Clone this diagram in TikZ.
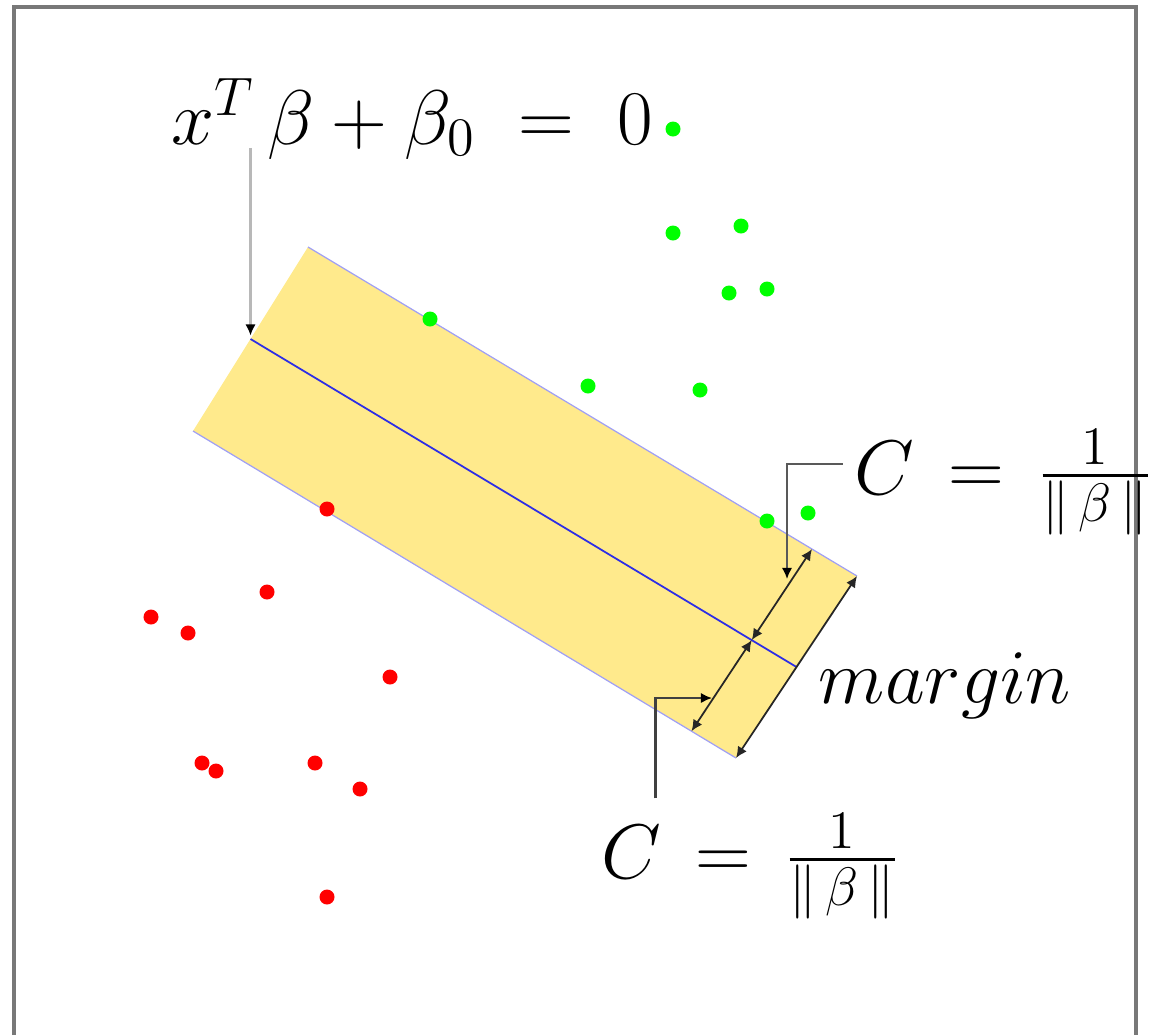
\RequirePackage{fix-cm}
\documentclass[tikz,border=0pt]{standalone}
\usepackage{amsmath, amssymb}
\usepackage{xcolor}
\usepackage{tikz}
\usetikzlibrary{
arrows.meta,
calc
}
\definecolor{svmband}{RGB}{255,234,140}
\definecolor{svmblue}{RGB}{45,45,230}
\definecolor{svmgreen}{RGB}{0,255,0}
\definecolor{svmred}{RGB}{255,0,0}
\definecolor{svmframe}{RGB}{120,120,120}

\begin{document}
\begin{tikzpicture}[>=Stealth, x=0.01cm, y=-0.01cm,
  bigmath/.style={font=\fontsize{22}{26}\selectfont, inner sep=0pt},
  callout/.style={line width=0.6pt, -{Latex[length=3.2pt, width=3pt, color=black]}},
  marginarrow/.style={line width=0.5pt, black!85,
    {Latex[length=3.2pt, width=3pt]}-{Latex[length=3.2pt, width=3pt]}}]

\useasboundingbox (0,0) rectangle (1171,1035);

% Frame
\draw[svmframe, line width=0.9pt] (14,1035) -- (14,7) -- (1136,7) -- (1136,1035);

% Margin band
\coordinate (bandtl) at (308,247);
\coordinate (bandtr) at (857,576);
\coordinate (bandbr) at (736,758);
\coordinate (bandbl) at (193,431);
\fill[svmband] (bandtl) -- (bandtr) -- (bandbr) -- (bandbl) -- cycle;
\draw[svmblue!45, line width=0.35pt] (bandtl) -- (bandtr);
\draw[svmblue!45, line width=0.35pt] (bandbl) -- (bandbr);

% Separating hyperplane
\coordinate (hypl) at ($(bandtl)!0.5!(bandbl)$);
\coordinate (hypr) at ($(bandtr)!0.5!(bandbr)$);
\draw[svmblue, line width=0.5pt] (hypl) -- (hypr);

% Margin arrows
\coordinate (mtop) at ($(bandtl)!0.918!(bandtr)$);
\coordinate (mbot) at ($(bandbl)!0.918!(bandbr)$);
\coordinate (mmid) at ($(mtop)!0.5!(mbot)$);
\draw[marginarrow] (mtop) -- (mmid);
\draw[marginarrow] (mmid) -- (mbot);
\draw[marginarrow] (bandtr) -- (bandbr);

% Green points
\foreach \px/\py in {673/129, 673/233, 741/226, 729/293, 767/289,
                     430/319, 588/386, 700/390, 767/521, 808/513}
  \fill[svmgreen] (\px,\py) circle (0.075cm);

% Red points
\foreach \px/\py in {327/509, 267/592, 151/617, 188/633, 390/677,
                     202/763, 216/771, 315/763, 360/789, 327/897}
  \fill[svmred] (\px,\py) circle (0.075cm);

% Labels
\node[bigmath] (hyp) at (412,119) {$x^{T}\,\beta + \beta_0 \;=\; 0$};
\node[bigmath] (cup) at (1003,482) {$C \,=\, \tfrac{1}{\|\,\beta\,\|}$};
\node[bigmath] (clow) at (750,866) {$C \,=\, \tfrac{1}{\|\,\beta\,\|}$};
\node[bigmath] (marg) at (945,686) {$margin$};

% Callouts
\coordinate (cupend) at (787,579);
\coordinate (clowend) at (712,698);
\draw[callout, black!28] ([yshift=3.4pt]hyp.south -| hypl) -- ([yshift=1pt]hypl);
\draw[callout, black!65] ([xshift=-3pt, yshift=5pt]cup.west) -| (cupend);
\draw[callout, black!75] ([xshift=0.55cm, yshift=4pt]clow.north west) |- (clowend);

\end{tikzpicture}
\end{document}
